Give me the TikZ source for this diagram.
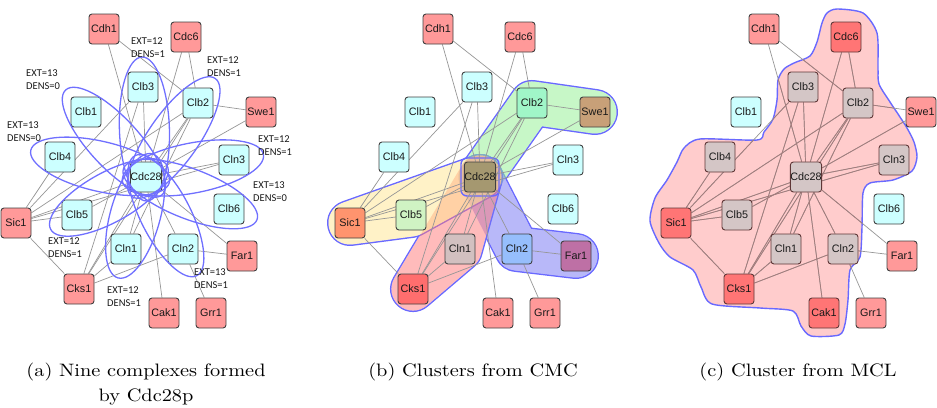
\documentclass[tikz,border=0pt]{standalone}
\usepackage{fontspec}
\newfontfamily\nodefam{Liberation Sans}
\newfontfamily\labfam{Carlito}
\newfontfamily\capfam[Extension=.otf]{lmroman10-regular}
\usetikzlibrary{calc}
\pgfdeclarelayer{hulllayer}
\pgfdeclarelayer{edgelayer}
\pgfsetlayers{hulllayer,edgelayer,main}
\definecolor{pinkc}{RGB}{255,153,153}
\definecolor{cyanc}{RGB}{204,255,255}
\definecolor{nodeborder}{RGB}{64,64,64}
\definecolor{edgec}{RGB}{150,150,150}
\definecolor{edgein}{RGB}{165,122,122}
\definecolor{ellc}{RGB}{112,112,255}
\definecolor{hullblue}{RGB}{105,105,255}
\definecolor{hgreen}{RGB}{145,241,145}
\definecolor{hyellow}{RGB}{255,231,145}
\definecolor{hred}{RGB}{255,121,121}
\definecolor{hblue}{RGB}{115,115,245}
\definecolor{hpink}{RGB}{255,204,204}
\definecolor{txt}{RGB}{25,25,25}
% per-panel node colours
\foreach \n/\s in {Cdh1/pinkc,Cdc6/pinkc,Clb3/cyanc,Clb2/cyanc,Swe1/pinkc,Clb1/cyanc,Clb4/cyanc,
    Cln3/cyanc,Cdc28/cyanc,Sic1/pinkc,Clb5/cyanc,Clb6/cyanc,Cln1/cyanc,Cln2/cyanc,Far1/pinkc,
    Cks1/pinkc,Cak1/pinkc,Grr1/pinkc}{%
  \xglobal\colorlet{a\n}{\s}\xglobal\colorlet{b\n}{\s}\xglobal\colorlet{c\n}{\s}%
  \xglobal\colorlet{bda\n}{nodeborder}\xglobal\colorlet{bdb\n}{nodeborder}\xglobal\colorlet{bdc\n}{nodeborder}}
\definecolor{bClb2}{RGB}{160,246,200}
\definecolor{bSwe1}{RGB}{200,160,120}
\definecolor{bCdc28}{RGB}{165,152,112}
\definecolor{bSic1}{RGB}{255,148,110}
\definecolor{bClb5}{RGB}{208,243,195}
\definecolor{bCln1}{RGB}{210,192,192}
\definecolor{bCks1}{RGB}{255,110,110}
\definecolor{bCln2}{RGB}{150,190,252}
\definecolor{bFar1}{RGB}{190,112,165}
\foreach \n in {Cdc6,Sic1,Cks1,Cak1}{\xglobal\definecolor{c\n}{RGB}{255,117,117}\xglobal\definecolor{bdc\n}{RGB}{95,55,55}}
\foreach \n in {Clb3,Clb2,Clb4,Cln3,Cdc28,Clb5,Cln1,Cln2}{\xglobal\definecolor{c\n}{RGB}{212,198,198}\xglobal\definecolor{bdc\n}{RGB}{95,55,55}}
\tikzset{
  prot/.style={rounded corners=3pt, minimum width=30pt, minimum height=30pt,
    inner sep=0pt, line width=0.9pt, text=txt, font=\nodefam\fontsize{10.8}{12}\selectfont},
  edge/.style={draw=edgec, line width=0.7pt},
  ell/.style={draw=ellc, line width=1.3pt},
  lab/.style={font=\labfam\fontsize{10.5}{13}\selectfont, align=left, inner sep=0pt, anchor=west, text=txt},
  captext/.style={font=\capfam\fontsize{18}{25}\selectfont, inner sep=0pt, anchor=base},
  hbx/.style={draw=hullblue, line width=46pt, line join=round, line cap=round},
  hfx/.style={draw=#1, line width=43pt, line join=round, line cap=round},
}
\newcommand\edgelist{Cdh1/Clb2,Cdh1/Cdc28,Cdc6/Cdc28,Cdc6/Clb2,Clb3/Cdc28,Clb3/Sic1,Clb3/Cks1,
      Clb2/Swe1,Clb2/Cdc28,Clb2/Cks1,Clb2/Cln1,Clb2/Sic1,Swe1/Cdc28,Cln3/Cdc28,Clb4/Sic1,
      Sic1/Cdc28,Sic1/Cln3,Sic1/Clb5,Sic1/Cks1,Clb5/Cdc28,Cdc28/Cln1,Cdc28/Cks1,Cdc28/Cln2,
      Cdc28/Far1,Cdc28/Cak1,Cln1/Cks1,Cln2/Cks1,Cln2/Far1,Cln2/Grr1}
\newcommand\drawpanel[2]{%
  \begin{scope}[xshift=#2pt]
  \foreach \n/\x/\y in {Cdh1/104/29,Cdc6/186/37,Clb3/143/87,Clb2/198/103,
      Swe1/261/112,Clb1/86/112,Clb4/60/157,Cln3/234/160,Cdc28/146/177,
      Sic1/16/223,Clb5/77/215,Clb6/229/209,Cln1/126/249,Cln2/183/249,
      Far1/242/256,Cks1/79/289,Cak1/164/313,Grr1/211/313}
    \node[prot, fill=#1\n, draw=bd#1\n] (#1\n) at (\x,\y) {\n};
  \end{scope}
  \begin{pgfonlayer}{edgelayer}
  \foreach \u/\v in \edgelist
    \draw[edge] (#1\u) -- (#1\v);
  \end{pgfonlayer}
}
% hull of panel (b): ring (blue then white), later a translucent colour
\newcommand\hullring[1]{%
  \path[hbx] #1;
  \path[hfx=white] #1;}
\newcommand\hullcolour[2]{%
  \path[hfx=#1, draw opacity=0.5] #2;}
\newcommand\chull[1]{%
  \path[#1] plot[smooth cycle, tension=0.45] coordinates {
 (837,9) (863,13) (877,33) (878,67) (879,84) (890,102) (898,114) (907,128) (914,142) (917,157)
 (912,171) (893,180) (870,183) (863,193) (862,227) (860,257) (850,270) (848,300) (845,324)
 (839,335) (811,336) (801,326) (793,311) (760,308) (712,304) (701,287) (693,270) (670,257)
 (659,243) (650,221) (655,198) (667,180) (677,162) (684,148) (700,139) (757,140) (764,132)
 (773,119) (777,100) (778,80) (784,69) (794,63) (810,56) (817,42) (822,23) (827,13)};}
\begin{document}
\begin{tikzpicture}[x=1pt, y=-1pt]
\useasboundingbox (0,0) rectangle (937,407);
% ---------------- panel (a)
\drawpanel{a}{0}
\foreach \t in {Clb1,Clb2,Clb3,Clb4,Clb5,Clb6,Cln1,Cln2,Cln3}{
  \path let \p1=($(a\t.center)-(aCdc28.center)$) in
    \pgfextra{\pgfmathsetmacro\ang{atan2(\y1,\x1)}\pgfmathsetmacro\dd{veclen(\x1,\y1)}%
      \xdef\angg{\ang}\xdef\ddd{\dd}};
  \pgfmathsetmacro\ra{\ddd/2+27}
  \pgfmathsetmacro\cx{\ddd/2+3}
  \begin{scope}[shift={(aCdc28.center)}, rotate=\angg]
    \draw[ell] (\cx pt,0pt) ellipse [x radius=\ra pt, y radius=25pt];
  \end{scope}
}
\node[lab] (l1) at (131,48) {EXT=12\\DENS=1};
\node[lab] (l2) at (207,67) {EXT=12\\DENS=1};
\node[lab] (l3) at (26,80) {EXT=13\\DENS=0};
\node[lab] (l4) at (7,132) {EXT=13\\DENS=0};
\node[lab] (l5) at (258,146) {EXT=12\\DENS=1};
\node[lab] (l6) at (253,192) {EXT=13\\DENS=0};
\node[lab] (l7) at (48,248) {EXT=12\\DENS=1};
\node[lab] (l8) at (194,279) {EXT=13\\DENS=1};
\node[lab] (l9) at (107,297) {EXT=12\\DENS=1};
% ---------------- panel (b)
\drawpanel{b}{334}
\begin{pgfonlayer}{hulllayer}
  \hullring{(bCdc28.center) -- (bClb2.center) -- (bSwe1.center)}
  \hullring{(bCdc28.center) -- (bCln2.center) -- (bFar1.center)}
  \hullring{(bCdc28.center) -- (bCln1.center) -- (bCks1.center) -- cycle}
  \hullring{(bSic1.center) -- (bClb5.center) -- (bCdc28.center) -- cycle}
  \hullcolour{hgreen}{(bCdc28.center) -- (bClb2.center) -- (bSwe1.center)}
  \hullcolour{hblue}{(bCdc28.center) -- (bCln2.center) -- (bFar1.center)}
  \hullcolour{hred}{(bCdc28.center) -- (bCln1.center) -- (bCks1.center) -- cycle}
  \hullcolour{hyellow}{(bSic1.center) -- (bClb5.center) -- (bCdc28.center) -- cycle}
  \draw[hullblue, line width=1.4pt, rounded corners=6pt]
    ($(bCdc28.center)+(-19,-19)$) rectangle ($(bCdc28.center)+(19,19)$);
\end{pgfonlayer}
% ---------------- panel (c)
\drawpanel{c}{660}
\begin{pgfonlayer}{hulllayer}
  \chull{fill=hpink, draw=hullblue, line width=1.4pt}
\end{pgfonlayer}
\begin{pgfonlayer}{edgelayer}
  \begin{scope}
    \chull{clip}
    \foreach \u/\v in \edgelist \draw[edge, draw=edgein] (c\u) -- (c\v);
  \end{scope}
\end{pgfonlayer}
% ---------------- captions
\node[captext] (capa1) at (146,376) {\scalebox{1.13}[1]{(a) Nine complexes formed}};
\node[captext] (capa2) at (146,401) {\scalebox{1.13}[1]{by Cdc28p}};
\node[captext] (capb) at (473,376) {\scalebox{1.13}[1]{(b) Clusters from CMC}};
\node[captext] (capc) at (798,376) {\scalebox{1.13}[1]{(c) Cluster from MCL}};
\end{tikzpicture}
\end{document}
